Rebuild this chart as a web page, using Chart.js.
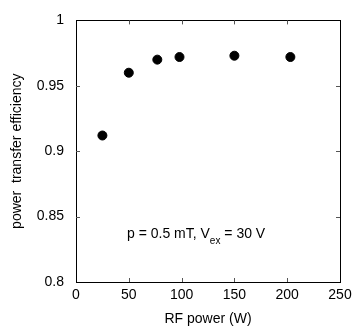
<!DOCTYPE html>
<html>
<head>
<meta charset="utf-8">
<script src="https://cdn.jsdelivr.net/npm/chart.js@4.4.1/dist/chart.umd.min.js"></script>
<style>
  html, body { margin: 0; padding: 0; background: #fff; }
  #wrap { width: 360px; height: 332px; }
</style>
</head>
<body>
<div id="wrap"><canvas id="chart"></canvas></div>
<script>
// data
const rfPower = [25, 50, 77, 98, 150, 203];
const efficiency = [0.912, 0.960, 0.970, 0.972, 0.973, 0.972];
const xTicks = [0, 50, 100, 150, 200, 250];
const yTicks = [0.8, 0.85, 0.9, 0.95, 1];

const FONT = 'Liberation Sans, Arial, sans-serif';

// frame + inward ticks on all four sides, plus the condition label
const framePlugin = {
    id: 'frame',
    afterDraw(chart) {
        const { ctx, chartArea: a, scales } = chart;
        ctx.save();
        ctx.strokeStyle = '#000';
        ctx.lineWidth = 1;
        ctx.strokeRect(Math.round(a.left) + 0.5, Math.round(a.top) + 0.5,
            Math.round(a.right - a.left), Math.round(a.bottom - a.top));
        ctx.strokeStyle = '#555';
        const len = 4;
        ctx.beginPath();
        xTicks.slice(1, -1).forEach(v => {
            const x = Math.round(scales.x.getPixelForValue(v)) + 0.5;
            ctx.moveTo(x, a.bottom); ctx.lineTo(x, a.bottom - len);
            ctx.moveTo(x, a.top); ctx.lineTo(x, a.top + len);
        });
        yTicks.slice(1, -1).forEach(v => {
            const y = Math.round(scales.y.getPixelForValue(v)) + 0.5;
            ctx.moveTo(a.left, y); ctx.lineTo(a.left + len, y);
            ctx.moveTo(a.right, y); ctx.lineTo(a.right - len, y);
        });
        ctx.stroke();

        // annotation: p = 0.5 mT, V_ex = 30 V
        ctx.fillStyle = '#000';
        ctx.textBaseline = 'alphabetic';
        ctx.textAlign = 'left';
        let x = a.left + 51;
        const y = a.top + 218;
        ctx.font = '14px ' + FONT;
        const part1 = 'p = 0.5 mT, V';
        ctx.fillText(part1, x, y);
        x += ctx.measureText(part1).width;
        ctx.font = '10px ' + FONT;
        ctx.fillText('ex', x, y + 6);
        x += ctx.measureText('ex').width;
        ctx.font = '14px ' + FONT;
        ctx.fillText(' = 30 V', x, y);
        ctx.restore();
    }
};

new Chart(document.getElementById('chart').getContext('2d'), {
    type: 'scatter',
    data: {
        datasets: [{
            data: rfPower.map((p, i) => ({ x: p, y: efficiency[i] })),
            backgroundColor: '#000',
            borderColor: '#000',
            pointRadius: 4.5,
            pointHoverRadius: 4.5
        }]
    },
    options: {
        responsive: true,
        maintainAspectRatio: false,
        animation: false,
        layout: { padding: { left: 0, top: 19, right: 20, bottom: 0 } },
        plugins: { legend: { display: false }, tooltip: { enabled: false } },
        scales: {
            x: {
                type: 'linear',
                min: 0, max: 250,
                afterBuildTicks: s => { s.ticks = xTicks.map(v => ({ value: v })); },
                afterFit: s => { s.height = 50; },
                grid: { display: false, drawTicks: false },
                border: { display: false },
                ticks: { color: '#000', padding: 5, font: { family: FONT, size: 14 } },
                title: {
                    display: true, text: 'RF power (W)', color: '#000',
                    padding: { top: 0, bottom: 4 }, font: { family: FONT, size: 14 }
                }
            },
            y: {
                type: 'linear',
                min: 0.8, max: 1,
                afterBuildTicks: s => { s.ticks = yTicks.map(v => ({ value: v })); },
                afterFit: s => { s.width = 76; },
                grid: { display: false, drawTicks: false },
                border: { display: false },
                ticks: { color: '#000', padding: 12, font: { family: FONT, size: 14 },
                    callback: v => String(Math.round(v * 100) / 100) },
                title: {
                    display: true, text: 'power  transfer efficiency', color: '#000',
                    padding: { top: 9, bottom: 0 }, font: { family: FONT, size: 14 }
                }
            }
        }
    },
    plugins: [framePlugin]
});
</script>
</body>
</html>
